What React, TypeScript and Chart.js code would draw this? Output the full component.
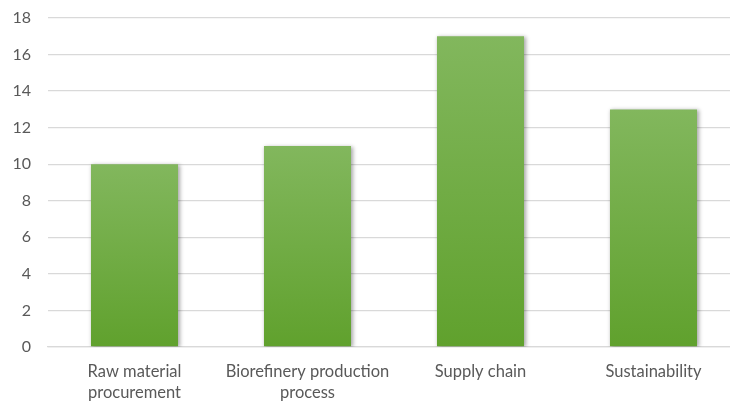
import React, { useEffect, useRef } from "react";
import { Chart, registerables } from "chart.js";

Chart.register(...registerables);

const categories: (string | string[])[] = [
  ["Raw material", "procurement"],
  ["Biorefinery production", "process"],
  "Supply chain",
  "Sustainability",
];
const values: number[] = [10, 11, 17, 13];
const yMin = 0;
const yMax = 18;
const yStep = 2;

const FONT = "Lato, 'Open Sans', sans-serif";

export default function App() {
  const ref = useRef<HTMLCanvasElement | null>(null);

  useEffect(() => {
    document.body.style.margin = "0";
    document.body.style.overflow = "hidden";
    const canvas = ref.current;
    if (!canvas) return;

    const shadowPlugin = {
      id: "barShadow",
      beforeDatasetsDraw(chart: any) {
        const ctx = chart.ctx;
        ctx.save();
        ctx.shadowColor = "rgba(0,0,0,0.35)";
        ctx.shadowBlur = 4;
        ctx.shadowOffsetX = 1.5;
        ctx.shadowOffsetY = 1;
      },
      afterDatasetsDraw(chart: any) {
        chart.ctx.restore();
      },
    };

    const chart = new Chart(canvas, {
      type: "bar",
      data: {
        labels: categories,
        datasets: [
          {
            data: values,
            backgroundColor: (c: any) => {
              const ch = c.chart;
              const ys = ch.scales?.y;
              if (!ch.chartArea || !ys || c.dataIndex === undefined) return "#72ac45";
              const top = ys.getPixelForValue(values[c.dataIndex]);
              const bottom = ys.getPixelForValue(0);
              if (!isFinite(top) || !isFinite(bottom) || top === bottom) return "#72ac45";
              const g = ch.ctx.createLinearGradient(0, top, 0, bottom);
              g.addColorStop(0, "#82b75d");
              g.addColorStop(1, "#60a12d");
              return g;
            },
            borderWidth: 0,
            categoryPercentage: 1,
            barPercentage: 0.503,
          },
        ],
      },
      options: {
        animation: false,
        responsive: false,
        maintainAspectRatio: false,
        devicePixelRatio: 1,
        layout: { padding: { top: 18, right: 0, left: 0, bottom: 0 } },
        plugins: {
          legend: { display: false },
          tooltip: { enabled: false },
        },
        scales: {
          x: {
            grid: { display: false, drawTicks: false },
            border: { display: true, color: "#d9d9d9", width: 1.3 },
            ticks: {
              color: "#595959",
              font: { family: FONT, size: 16.5, lineHeight: 1.22 },
              padding: 15,
              maxRotation: 0,
              autoSkip: false,
            },
            afterFit: (s: any) => {
              s.height = 56;
              s.paddingLeft = 0;
              s.paddingRight = 0;
            },
          },
          y: {
            min: yMin,
            max: yMax,
            ticks: {
              stepSize: yStep,
              color: "#595959",
              font: { family: FONT, size: 16 },
              padding: 17,
            },
            grid: { color: "#d9d9d9", lineWidth: 1.3, drawTicks: false },
            border: { display: false },
            afterFit: (s: any) => {
              s.width = 48;
              s.paddingTop = 0;
              s.paddingBottom = 0;
            },
          },
        },
      },
      plugins: [shadowPlugin],
    });

    return () => chart.destroy();
  }, []);

  return (
    <div style={{ width: 730, height: 403, overflow: "hidden" }}>
      <canvas ref={ref} width={740} height={403} style={{ display: "block" }} />
    </div>
  );
}
